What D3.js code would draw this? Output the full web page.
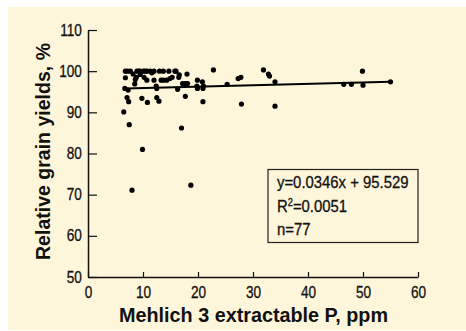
<!DOCTYPE html>
<html>
<head>
<meta charset="utf-8">
<script src="https://cdn.jsdelivr.net/npm/d3@7"></script>
<style>
  body { margin: 0; background: #fff; }
  svg text { font-family: 'Liberation Sans', Arial, sans-serif; }
  .tick text { font-size: 16px; }
</style>
</head>
<body>
<svg id="chart" width="466" height="331"></svg>
<script>
// Mehlich 3 P (ppm) vs relative grain yield (%)
const pValues = [
  6.5, 6.8, 6.8, 6.7, 7.3, 7.1, 7.4, 7.5, 8.0, 7.7,
  8.2, 8.6, 8.5, 8.9, 9.5, 10.1, 10.7, 11.3, 12.0, 13.0,
  13.7, 14.7, 15.8, 9.5, 10.2, 10.7, 9.8, 9.9, 10.8, 12.0,
  12.4, 12.5, 12.5, 12.9, 13.7, 14.3, 14.9, 15.3, 16.5, 16.6,
  16.3, 17.0, 17.2, 17.7, 18.0, 18.1, 17.7, 18.7, 19.9, 19.8,
  19.9, 20.8, 21.0, 20.9, 20.9, 22.8, 25.3, 27.3, 27.8, 27.9,
  31.9, 32.8, 33.0, 34.0, 34.0, 46.5, 47.9, 49.9, 50.0, 55.0,
  7.2, 9.2, 10.4, 11.6, 8.8, 13.3, 16.0
]
const yieldValues = [
  90.1, 100, 98.4, 95.8, 95.4, 93.6, 92.6, 87.0, 71.1, 100,
  99.3, 98.0, 96.9, 100, 100, 100, 100, 100, 100, 100,
  100, 100, 100, 99.2, 98.5, 97.8, 93.4, 81.0, 92.4, 97.8,
  96.4, 95.8, 93.6, 92.7, 97.8, 97.8, 98.2, 98.5, 98.5, 99.1,
  95.6, 86.2, 97.0, 97.0, 99.3, 97.0, 93.9, 72.3, 97.8, 96.4,
  95.8, 97.4, 96.4, 95.8, 92.6, 100.3, 96.8, 98.2, 98.5, 92.0,
  100.3, 99.3, 98.8, 97.4, 91.5, 96.8, 96.8, 100, 96.6, 97.4,
  100, 100, 100, 99.6, 98.5, 97.8, 100
]
const slope = 0.0346
const intercept = 95.529
const fitRange = [6.8, 55]
const xTicks = [0, 10, 20, 30, 40, 50, 60]
const yTicks = [50, 60, 70, 80, 90, 100, 110]
const statLines = ['y=0.0346x + 95.529', 'R2=0.0051', 'n=77']

const svg = d3.select('#chart')
const x = d3.scaleLinear().domain([0, 60]).range([88, 418])
const y = d3.scaleLinear().domain([50, 110]).range([277, 30])

svg.append('rect')
  .attr('x', 8).attr('y', 7)
  .attr('width', 458).attr('height', 323)
  .attr('fill', '#fef6da')

const gx = svg.append('g')
  .attr('transform', `translate(0,${y(50)})`)
  .call(d3.axisBottom(x).tickValues(xTicks).tickSizeInner(-5).tickSizeOuter(0).tickPadding(10))
const gy = svg.append('g')
  .attr('transform', `translate(${x(0)},0)`)
  .call(d3.axisLeft(y).tickValues(yTicks).tickSizeInner(-9).tickSizeOuter(0).tickPadding(6))

for (const g of [gx, gy]) {
  g.attr('font-size', 16).attr('font-family', null)
  g.selectAll('.domain').attr('stroke', '#111').attr('stroke-width', 1.5)
  g.selectAll('.tick line').attr('stroke', '#111').attr('stroke-width', 1.2)
  g.selectAll('.tick text')
    .attr('fill', '#111')
    .attr('stroke', '#111')
    .attr('stroke-width', 0.3)
}
// narrow the tick labels a little, like a condensed face
gx.selectAll('.tick text').attr('transform', 'scale(0.85,1)')
gy.selectAll('.tick text').attr('transform', 'translate(-1,0) scale(0.85,1)')

// points
svg.append('g')
  .selectAll('circle')
  .data(pValues.map((p, i) => ({ p, v: yieldValues[i] })))
  .join('circle')
  .attr('cx', d => x(d.p))
  .attr('cy', d => y(d.v))
  .attr('r', 2.6)
  .attr('fill', '#000')

// fitted line
svg.append('line')
  .attr('x1', x(fitRange[0])).attr('y1', y(slope * fitRange[0] + intercept))
  .attr('x2', x(fitRange[1])).attr('y2', y(slope * fitRange[1] + intercept))
  .attr('stroke', '#000')
  .attr('stroke-width', 2)

// stats box
svg.append('rect')
  .attr('x', 268).attr('y', 169.5)
  .attr('width', 150).attr('height', 73)
  .attr('fill', 'none')
  .attr('stroke', '#222')
  .attr('stroke-width', 1.2)

const stat = svg.append('g')
  .attr('transform', 'translate(277,0) scale(0.93,1)')
  .attr('font-size', 16).attr('fill', '#111')
  .attr('stroke', '#111').attr('stroke-width', 0.3)
stat.append('text').attr('x', 0).attr('y', 188).text(statLines[0])
const r2 = stat.append('text').attr('x', 0).attr('y', 212)
r2.append('tspan').text('R')
r2.append('tspan').attr('font-size', 10).attr('dy', -6).text('2')
r2.append('tspan').attr('dy', 6).text(statLines[1].slice(2))
stat.append('text').attr('x', 0).attr('y', 235).text(statLines[2])

// axis titles
svg.append('text')
  .attr('x', 253.5).attr('y', 322)
  .attr('text-anchor', 'middle')
  .attr('font-weight', 'bold')
  .attr('font-size', 20)
  .attr('fill', '#111')
  .attr('textLength', 269)
  .attr('lengthAdjust', 'spacingAndGlyphs')
  .text('Mehlich 3 extractable P, ppm')

svg.append('text')
  .attr('transform', 'translate(50,151.5) rotate(-90)')
  .attr('text-anchor', 'middle')
  .attr('font-weight', 'bold')
  .attr('font-size', 20)
  .attr('fill', '#111')
  .attr('textLength', 217)
  .attr('lengthAdjust', 'spacingAndGlyphs')
  .text('Relative grain yields, %')
</script>
</body>
</html>
